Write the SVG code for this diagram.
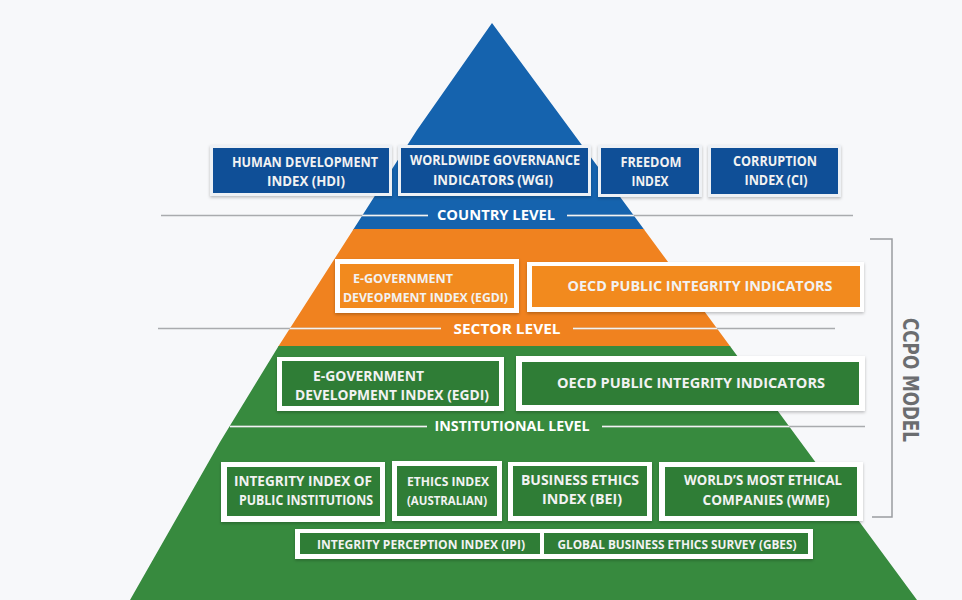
<svg xmlns="http://www.w3.org/2000/svg" width="962" height="600" viewBox="0 0 962 600">
<defs>
<style>
.t{font-family:"Open Sans","Noto Sans","Liberation Sans",sans-serif;font-weight:700;fill:#f2f2f2;text-anchor:middle}
.tl{font-family:"Open Sans","Noto Sans","Liberation Sans",sans-serif;font-weight:700;fill:#f2f2f2}
.lvl{font-family:"Open Sans","Noto Sans","Liberation Sans",sans-serif;font-weight:700;fill:#ffffff;text-anchor:middle;font-size:13.5px}
.frame{fill:#ffffff;filter:url(#sh)}
.frameb{fill:#eef1f5;filter:url(#sh)}
.blue{fill:#0f4f97}
.orange{fill:#f28a1e}
.green{fill:#2f7d36}
.lg{stroke:#a9abae;stroke-width:1.5;fill:none}
.lw{stroke:#ffffff;stroke-width:1.5;fill:none;opacity:0.85}
</style>
<filter id="sh" x="-10%" y="-20%" width="120%" height="150%">
<feDropShadow dx="0" dy="1.5" stdDeviation="1.5" flood-color="#000" flood-opacity="0.25"/>
</filter>
<clipPath id="pyr">
<polygon points="492,23 917,600 130,600 220,442 278,347 353,230 417,130"/>
</clipPath>
</defs>
<rect width="962" height="600" fill="#f7f8fa"/>
<g id="pyramid" clip-path="url(#pyr)">
<rect x="0" y="0" width="962" height="230" fill="#1563ae"/>
<rect x="0" y="229" width="962" height="118" fill="#f0821f"/>
<rect x="0" y="346" width="962" height="254" fill="#378a3e"/>
</g>
<g id="connectors">
<g class="lg">
<line x1="161" y1="215.5" x2="428" y2="215.5"/>
<line x1="567" y1="215.5" x2="853" y2="215.5"/>
<line x1="158" y1="328.5" x2="441" y2="328.5"/>
<line x1="573" y1="328.5" x2="835" y2="328.5"/>
<line x1="230" y1="426.5" x2="427" y2="426.5"/>
<line x1="602" y1="426.5" x2="865" y2="426.5"/>
</g>
<g class="lw" clip-path="url(#pyr)">
<line x1="161" y1="215.5" x2="428" y2="215.5"/>
<line x1="567" y1="215.5" x2="853" y2="215.5"/>
<line x1="158" y1="328.5" x2="441" y2="328.5"/>
<line x1="573" y1="328.5" x2="835" y2="328.5"/>
<line x1="230" y1="426.5" x2="427" y2="426.5"/>
<line x1="602" y1="426.5" x2="865" y2="426.5"/>
</g>
<polyline points="870,239 892,239 892,517 872,517" fill="none" stroke="#9a9ca0" stroke-width="1.5"/>
</g>
<g id="level-country"><text class="lvl" x="496" y="220" textLength="118" lengthAdjust="spacingAndGlyphs">COUNTRY LEVEL</text></g>
<g id="level-sector"><text class="lvl" x="507" y="334" textLength="107" lengthAdjust="spacingAndGlyphs">SECTOR LEVEL</text></g>
<g id="level-institutional"><text class="lvl" x="512" y="431" textLength="155" lengthAdjust="spacingAndGlyphs">INSTITUTIONAL LEVEL</text></g>
<g id="ccpo-model"><text x="910" y="380" transform="rotate(90 910 380)" text-anchor="middle" dominant-baseline="central" font-family="'DejaVu Sans Condensed','DejaVu Sans',sans-serif" font-weight="700" font-size="22" fill="#6b6d70" textLength="124" lengthAdjust="spacingAndGlyphs">CCPO MODEL</text></g>

<g id="hdi">
<rect class="frameb" x="210" y="145" width="182" height="51"/>
<rect class="blue" x="213" y="148" width="176" height="45"/>
<text class="t" font-size="13.5" x="305" y="167" textLength="146" lengthAdjust="spacingAndGlyphs">HUMAN DEVELOPMENT</text>
<text class="t" font-size="13.5" x="306" y="186" textLength="78" lengthAdjust="spacingAndGlyphs">INDEX (HDI)</text>
</g>
<g id="wgi">
<rect class="frameb" x="398" y="145" width="193" height="51"/>
<rect class="blue" x="401" y="148" width="187" height="45"/>
<text class="t" font-size="13.5" x="495" y="165" textLength="170" lengthAdjust="spacingAndGlyphs">WORLDWIDE GOVERNANCE</text>
<text class="t" font-size="13.5" x="493" y="185" textLength="120" lengthAdjust="spacingAndGlyphs">INDICATORS (WGI)</text>
</g>
<g id="freedom">
<rect class="frameb" x="598" y="145" width="104" height="52"/>
<rect class="blue" x="601" y="148" width="98" height="46"/>
<text class="t" font-size="13.5" x="651" y="167" textLength="61" lengthAdjust="spacingAndGlyphs">FREEDOM</text>
<text class="t" font-size="13.5" x="650" y="186" textLength="37" lengthAdjust="spacingAndGlyphs">INDEX</text>
</g>
<g id="ci">
<rect class="frameb" x="708" y="145" width="133" height="52"/>
<rect class="blue" x="711" y="148" width="127" height="46"/>
<text class="t" font-size="13.5" x="775" y="166" textLength="84" lengthAdjust="spacingAndGlyphs">CORRUPTION</text>
<text class="t" font-size="13.5" x="776" y="185" textLength="63" lengthAdjust="spacingAndGlyphs">INDEX (CI)</text>
</g>

<g id="egdi-sector">
<rect class="frame" x="335" y="259" width="184" height="54"/>
<rect class="orange" x="340" y="264" width="174" height="44"/>
<text class="tl" font-size="12.5" x="353" y="283" textLength="100" lengthAdjust="spacingAndGlyphs">E-GOVERNMENT</text>
<text class="tl" font-size="12.5" x="343" y="302" textLength="165" lengthAdjust="spacingAndGlyphs">DEVEOPMENT INDEX (EGDI)</text>
</g>
<g id="oecd-sector">
<rect class="frame" x="527" y="262" width="337" height="50"/>
<rect class="orange" x="532" y="266" width="328" height="41"/>
<text class="t" font-size="14" x="700" y="291" textLength="265" lengthAdjust="spacingAndGlyphs">OECD PUBLIC INTEGRITY INDICATORS</text>
</g>

<g id="egdi-institutional">
<rect class="frame" x="277" y="357" width="227" height="54"/>
<rect class="green" x="282" y="361" width="217" height="45"/>
<text class="tl" font-size="14.5" x="313" y="381" textLength="111" lengthAdjust="spacingAndGlyphs">E-GOVERNMENT</text>
<text class="tl" font-size="14.5" x="295" y="400" textLength="194" lengthAdjust="spacingAndGlyphs">DEVELOPMENT INDEX (EGDI)</text>
</g>
<g id="oecd-institutional">
<rect class="frame" x="516" y="356" width="349" height="55"/>
<rect class="green" x="522" y="362" width="337" height="43"/>
<text class="t" font-size="14" x="691" y="388" textLength="268" lengthAdjust="spacingAndGlyphs">OECD PUBLIC INTEGRITY INDICATORS</text>
</g>

<g id="ipi-institutions">
<rect class="frame" x="221" y="462" width="164" height="60"/>
<rect class="green" x="227" y="467" width="153" height="49"/>
<text class="t" font-size="13.5" x="303" y="486" textLength="138" lengthAdjust="spacingAndGlyphs">INTEGRITY INDEX OF</text>
<text class="t" font-size="13.5" x="306" y="505" textLength="134" lengthAdjust="spacingAndGlyphs">PUBLIC INSTITUTIONS</text>
</g>
<g id="ethics-index">
<rect class="frame" x="392" y="461" width="110" height="60"/>
<rect class="green" x="397" y="466" width="100" height="50"/>
<text class="t" font-size="12.5" x="448" y="486" textLength="82" lengthAdjust="spacingAndGlyphs">ETHICS INDEX</text>
<text class="t" font-size="12.5" x="447" y="505" textLength="80" lengthAdjust="spacingAndGlyphs">(AUSTRALIAN)</text>
</g>
<g id="bei">
<rect class="frame" x="508" y="462" width="144" height="59"/>
<rect class="green" x="513" y="466" width="134" height="50"/>
<text class="t" font-size="13.5" x="580" y="485" textLength="118" lengthAdjust="spacingAndGlyphs">BUSINESS ETHICS</text>
<text class="t" font-size="13.5" x="582" y="504" textLength="80" lengthAdjust="spacingAndGlyphs">INDEX (BEI)</text>
</g>
<g id="wme">
<rect class="frame" x="659" y="462" width="204" height="59"/>
<rect class="green" x="665" y="467" width="192" height="49"/>
<text class="t" font-size="13.5" x="763" y="485" textLength="158" lengthAdjust="spacingAndGlyphs">WORLD’S MOST ETHICAL</text>
<text class="t" font-size="13.5" x="766" y="505" textLength="127" lengthAdjust="spacingAndGlyphs">COMPANIES (WME)</text>
</g>

<g id="surveys">
<rect class="frame" x="295" y="529" width="518" height="30"/>
<g id="ipi">
<rect class="green" x="300" y="533" width="240" height="21"/>
<text class="t" font-size="12" x="421" y="549" textLength="208" lengthAdjust="spacingAndGlyphs">INTEGRITY PERCEPTION INDEX (IPI)</text>
</g>
<g id="gbes">
<rect class="green" x="544" y="533" width="264" height="21"/>
<text class="t" font-size="12" x="677" y="549" textLength="239" lengthAdjust="spacingAndGlyphs">GLOBAL BUSINESS ETHICS SURVEY (GBES)</text>
</g>
</g>
</svg>
